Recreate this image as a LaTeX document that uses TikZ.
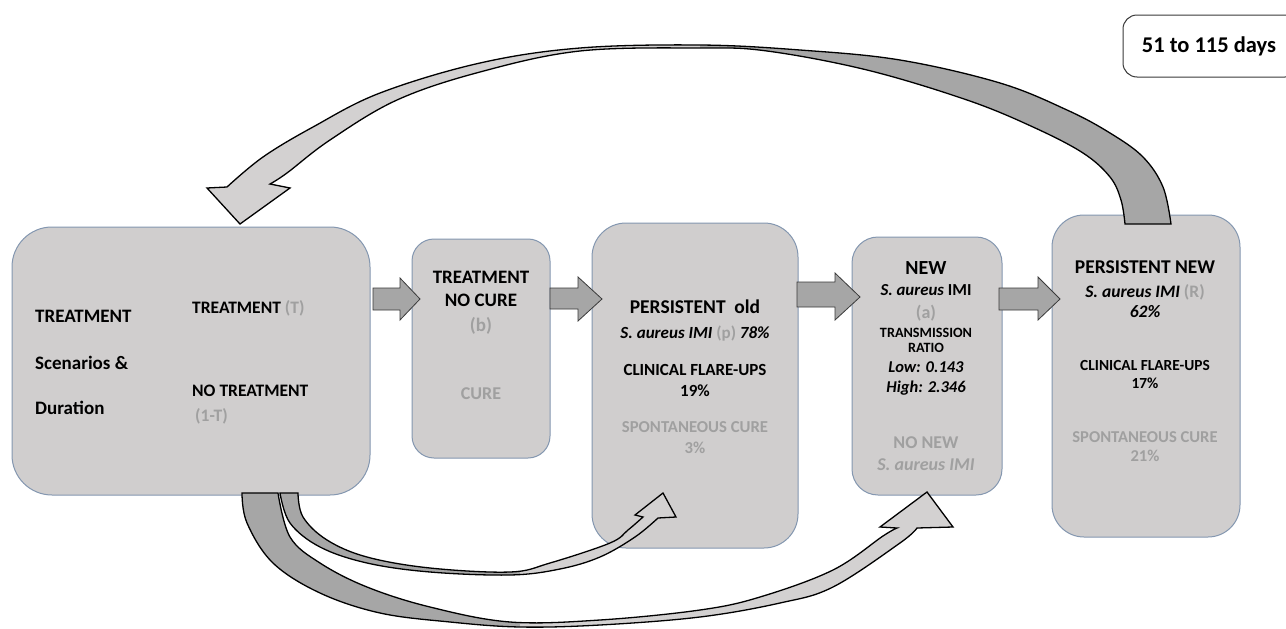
\documentclass[tikz,border=0pt]{standalone}
\usepackage{fontspec}
\setmainfont{Carlito}
\definecolor{boxfill}{HTML}{D0CECE}
\definecolor{boxline}{HTML}{8497B0}
\definecolor{arrfill}{HTML}{A6A6A6}
\definecolor{arrlight}{HTML}{D3D1D1}
\definecolor{arrline}{HTML}{3A3A3A}
\definecolor{graytxt}{HTML}{A0A0A0}
\newcommand\FS[1]{\fontsize{#1}{#1}\selectfont\bfseries}
\newcommand\gt[1]{{\color{graytxt}#1}}
\newcommand\toppath{(1171,224) -- plot[smooth,tension=0.6] coordinates {(1171,224)(1163,187)(1143,157)(1110,133)(1067,110)(1000,83)(900,60)(800,50)(700,45)(580,48)(480,63)(380,93)(313,127)(263,157)(227,187)} -- (207,188) -- (240,224) -- (290,188) -- (270,184) -- plot[smooth,tension=0.6] coordinates {(270,184)(287,173)(330,140)(397,100)(480,72)(580,51)(700,48)(767,51)(867,70)(967,100)(1033,127)(1083,153)(1110,177)(1121,200)(1125,224)} -- cycle}
\newcommand\bigpath{(242,493) -- plot[smooth,tension=0.6] coordinates {(242,493)(247,523)(273,563)(320,593)(380,613)(450,622)(520,627)(600,625)(700,617)(780,603)(833,587)(900,543)(917,528)} -- (953,527) -- (927,492) -- (880,527) -- (897,528) -- plot[smooth,tension=0.6] coordinates {(897,528)(883,536)(833,570)(760,597)(700,610)(600,620)(510,622)(430,607)(367,587)(320,563)(290,537)(278,493)} -- cycle}
\newcommand\smallpath{(280,493) -- plot[smooth,tension=0.6] coordinates {(280,493)(290,523)(320,547)(367,563)(430,572)(510,575)(560,569)(600,557)(635,537)(658,518)} -- (676,517) -- (663,493) -- (635,515) -- (643,517) -- plot[smooth,tension=0.6] coordinates {(643,517)(628,530)(610,543)(550,563)(510,572)(430,568)(367,557)(327,540)(303,517)(298,493)} -- cycle}
\tikzset{
  box/.style={draw=boxline, line width=1pt, fill=boxfill, rectangle, inner sep=0pt},
  lbl/.style={inner sep=0pt, anchor=base},
  lblw/.style={inner sep=0pt, anchor=base west},
  barrow/.style={draw=arrline, line width=0.8pt, fill=arrfill, line join=miter},
  cline/.style={draw=black, line width=1.3pt, line join=miter},
}
\begin{document}
\begin{tikzpicture}[x=1pt,y=-1pt]
\useasboundingbox (0,0) rectangle (1286,629);
\fill[white] (0,0) rectangle (1286,629);
% boxes
\node[box, rounded corners=40pt, minimum width=358pt, minimum height=268pt] (A) at (191,361) {};
\node[box, rounded corners=22pt, minimum width=138pt, minimum height=219pt] (B) at (481,348.5) {};
\node[box, rounded corners=34pt, minimum width=206pt, minimum height=325pt] (C) at (695,385.5) {};
\node[box, rounded corners=26pt, minimum width=150pt, minimum height=258pt] (D) at (927,366) {};
\node[box, rounded corners=32pt, minimum width=188pt, minimum height=322pt] (E) at (1146,376) {};
\node[draw=arrline, line width=1pt, fill=white, rounded corners=14pt, minimum width=176pt, minimum height=62pt, inner sep=0pt, font=\FS{22.5}] (days) at (1211,46) {\hspace*{-2pt}51 to 115 days\hspace*{2pt}};
% box A text
\node[lblw, font=\FS{19}] (a1) at (35,322) {TREATMENT};
\node[lblw, font=\FS{19}] (a2) at (35,369) {Scenarios \&};
\node[lblw, font=\FS{19}] (a3) at (35,414) {Duration};
\node[lblw, font=\FS{17.5}] (a4) at (192,313) {TREATMENT \gt{(T)}};
\node[lblw, font=\FS{17.5}] (a5) at (192,396) {NO TREATMENT};
\node[lblw, font=\FS{17.5}] (a6) at (195,421) {\gt{(1-T)}};
% box B text
\node[lbl, font=\FS{19}] (b1) at (481,283) {TREATMENT};
\node[lbl, font=\FS{19}] (b2) at (481,306) {NO CURE};
\node[lbl, font=\FS{19}] (b3) at (481,331) {\gt{(b)}};
\node[lbl, font=\FS{18}] (b4) at (481,399) {\gt{CURE}};
% box C text
\node[lbl, font=\FS{19.5}] (c1) at (695,313) {PERSISTENT\ \ old};
\node[lbl, font=\FS{17}] (c2) at (695,338) {\textit{S. aureus IMI} \gt{(p)} \textit{78\%}};
\node[lbl, font=\FS{17}] (c3) at (695,375) {CLINICAL FLARE-UPS};
\node[lbl, font=\FS{17}] (c4) at (695,396) {19\%};
\node[lbl, font=\FS{16.7}] (c5) at (695,432) {\gt{SPONTANEOUS CURE}};
\node[lbl, font=\FS{16.7}] (c6) at (695,453) {\gt{3\%}};
% box D text
\node[lbl, font=\FS{20}] (d1) at (926,274) {NEW};
\node[lbl, font=\FS{16.8}] (d2) at (926,295) {\textit{S. aureus} IMI};
\node[lbl, font=\FS{18}] (d3) at (926,318) {\gt{(a)}};
\node[lbl, font=\FS{14.2}] (d4) at (926,337) {TRANSMISSION};
\node[lbl, font=\FS{14.2}] (d5) at (926,352) {RATIO};
\node[lbl, font=\FS{16.5}] (d6) at (926,372) {\textit{Low: 0.143}};
\node[lbl, font=\FS{16.5}] (d7) at (926,392) {\textit{High: 2.346}};
\node[lbl, font=\FS{18}] (d8) at (926,448) {\gt{NO NEW}};
\node[lbl, font=\FS{18}] (d9) at (926,470) {\gt{\textit{S. aureus IMI}}};
% box E text
\node[lbl, font=\FS{19.5}] (e1) at (1145,273) {PERSISTENT NEW};
\node[lbl, font=\FS{17.5}] (e2) at (1145,297) {\textit{S. aureus IMI} \gt{(R)}};
\node[lbl, font=\FS{17.5}] (e3) at (1145,317) {\textit{62\%}};
\node[lbl, font=\FS{15.4}] (e4) at (1145,370) {CLINICAL FLARE-UPS};
\node[lbl, font=\FS{15.4}] (e5) at (1145,388) {17\%};
\node[lbl, font=\FS{16.6}] (e6) at (1145,442) {\gt{SPONTANEOUS CURE}};
\node[lbl, font=\FS{16.6}] (e7) at (1145,461) {\gt{21\%}};
% straight block arrows
\draw[barrow] (373,288) -- (400,288) -- (400,278) -- (420,299) -- (400,320) -- (400,310) -- (373,310) -- cycle;
\draw[barrow] (550,288) -- (578,288) -- (578,277) -- (602,299) -- (578,321) -- (578,309) -- (550,309) -- cycle;
\draw[barrow] (797,282) -- (835,282) -- (835,273) -- (860,297) -- (835,320) -- (835,307) -- (797,307) -- cycle;
\draw[barrow] (999,288) -- (1038,288) -- (1038,277) -- (1060,299) -- (1038,320) -- (1038,310) -- (999,310) -- cycle;
% top curved arrow
\begin{scope}\clip (0,0) rectangle (700,629); \fill[arrlight] \toppath; \end{scope}
\begin{scope}\clip (700,0) rectangle (1286,629); \fill[arrfill] \toppath; \end{scope}
\draw[cline] \toppath;
% bottom curved arrows
\begin{scope}\clip (0,0) rectangle (520,629); \fill[arrfill] \bigpath; \end{scope}
\begin{scope}\clip (520,0) rectangle (1286,629); \fill[arrlight] \bigpath; \end{scope}
\draw[cline] \bigpath;
\begin{scope}\clip (0,0) rectangle (520,629); \fill[arrfill] \smallpath; \end{scope}
\begin{scope}\clip (520,0) rectangle (1286,629); \fill[arrlight] \smallpath; \end{scope}
\draw[cline] \smallpath;
\end{tikzpicture}
\end{document}
